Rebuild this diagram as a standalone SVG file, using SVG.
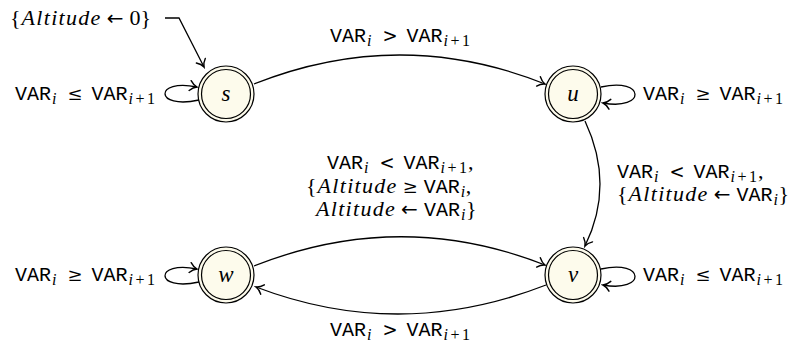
<svg xmlns="http://www.w3.org/2000/svg" width="798" height="343" viewBox="0 0 798 343">
<defs>
<marker id="arr" viewBox="-8 -6 10 12" refX="0" refY="0" markerWidth="10" markerHeight="12" markerUnits="userSpaceOnUse" orient="auto">
<path d="M -7 -5 C -4.8 -2.3 -2.2 -0.6 0 0 C -2.2 0.6 -4.8 2.3 -7 5" fill="none" stroke="#000" stroke-width="1.4" stroke-linecap="round"/>
</marker>
</defs>
<rect x="0" y="0" width="798" height="343" fill="#ffffff"/>

<g id="connectors" fill="none" stroke="#000" stroke-width="1.3" marker-end="url(#arr)">
<path id="init" d="M 165 18 L 179 18 L 204 67"/>
<path id="s-s" d="M 199 100 C 154 110 154 78 197 87"/>
<path id="s-u" d="M 254 84 Q 400 26 545 84"/>
<path id="u-u" d="M 601 87 C 646 77 646 111 603 103"/>
<path id="u-v" d="M 585 121 Q 615 185 585 246"/>
<path id="w-v" d="M 254 266 Q 400 208 545 265"/>
<path id="v-w" d="M 546 285 Q 400 342 256 287"/>
<path id="w-w" d="M 199 282 C 154 292 154 260 197 269"/>
<path id="v-v" d="M 601 269 C 646 259 646 293 603 285"/>
</g>

<g id="lab-init">
<text x="10" y="25" font-family="Liberation Serif" font-size="22" style="font-family:'Liberation Serif'">{</text>
<text x="21.6" y="25" font-family="Liberation Serif" font-size="22" font-style="italic" letter-spacing="1.3" style="font-family:'Liberation Serif'">Altitude</text>
<text x="106.7" y="25" font-family="DejaVu Sans" font-size="20" style="font-family:'DejaVu Sans'">←</text>
<text x="129.5" y="25" font-family="Liberation Serif" font-size="22" style="font-family:'Liberation Serif'">0}</text>
</g>

<g id="lab-ss">
<text x="15" y="100" font-family="Liberation Mono" font-size="20" style="font-family:'Liberation Mono'">VAR</text>
<text x="52" y="104" font-family="Liberation Serif" font-size="16" font-style="italic" style="font-family:'Liberation Serif'">i</text>
<text x="67.5" y="100" font-family="DejaVu Serif" font-size="18" style="font-family:'DejaVu Serif'">≤</text>
<text x="91.5" y="100" font-family="Liberation Mono" font-size="20" style="font-family:'Liberation Mono'">VAR</text>
<text x="128.5" y="104" font-family="Liberation Serif" font-size="16" font-style="italic" style="font-family:'Liberation Serif'">i</text>
<text x="135.5" y="104" font-family="Liberation Serif" font-size="16" letter-spacing="2.5" style="font-family:'Liberation Serif'">+1</text>
</g>

<g id="lab-su">
<text x="330" y="42" font-family="Liberation Mono" font-size="20" style="font-family:'Liberation Mono'">VAR</text>
<text x="367" y="46" font-family="Liberation Serif" font-size="16" font-style="italic" style="font-family:'Liberation Serif'">i</text>
<text x="382.5" y="42" font-family="DejaVu Serif" font-size="18" style="font-family:'DejaVu Serif'">&gt;</text>
<text x="406.5" y="42" font-family="Liberation Mono" font-size="20" style="font-family:'Liberation Mono'">VAR</text>
<text x="443.5" y="46" font-family="Liberation Serif" font-size="16" font-style="italic" style="font-family:'Liberation Serif'">i</text>
<text x="450.5" y="46" font-family="Liberation Serif" font-size="16" letter-spacing="2.5" style="font-family:'Liberation Serif'">+1</text>
</g>

<g id="lab-uu">
<text x="643" y="100" font-family="Liberation Mono" font-size="20" style="font-family:'Liberation Mono'">VAR</text>
<text x="680" y="104" font-family="Liberation Serif" font-size="16" font-style="italic" style="font-family:'Liberation Serif'">i</text>
<text x="695.5" y="100" font-family="DejaVu Serif" font-size="18" style="font-family:'DejaVu Serif'">≥</text>
<text x="719.5" y="100" font-family="Liberation Mono" font-size="20" style="font-family:'Liberation Mono'">VAR</text>
<text x="756.5" y="104" font-family="Liberation Serif" font-size="16" font-style="italic" style="font-family:'Liberation Serif'">i</text>
<text x="763.5" y="104" font-family="Liberation Serif" font-size="16" letter-spacing="2.5" style="font-family:'Liberation Serif'">+1</text>
</g>

<g id="lab-uv">
<text x="617" y="178" font-family="Liberation Mono" font-size="20" style="font-family:'Liberation Mono'">VAR</text>
<text x="654" y="182" font-family="Liberation Serif" font-size="16" font-style="italic" style="font-family:'Liberation Serif'">i</text>
<text x="669.5" y="178" font-family="DejaVu Serif" font-size="18" style="font-family:'DejaVu Serif'">&lt;</text>
<text x="693.5" y="178" font-family="Liberation Mono" font-size="20" style="font-family:'Liberation Mono'">VAR</text>
<text x="730.5" y="182" font-family="Liberation Serif" font-size="16" font-style="italic" style="font-family:'Liberation Serif'">i</text>
<text x="737.5" y="182" font-family="Liberation Serif" font-size="16" letter-spacing="2.5" style="font-family:'Liberation Serif'">+1</text>
<text x="758" y="178" font-family="Liberation Serif" font-size="22" style="font-family:'Liberation Serif'">,</text>
<text x="617" y="201" font-family="Liberation Serif" font-size="22" style="font-family:'Liberation Serif'">{</text>
<text x="628.6" y="201" font-family="Liberation Serif" font-size="22" font-style="italic" letter-spacing="1.3" style="font-family:'Liberation Serif'">Altitude</text>
<text x="713.7" y="201" font-family="DejaVu Sans" font-size="20" style="font-family:'DejaVu Sans'">←</text>
<text x="736.5" y="201" font-family="Liberation Mono" font-size="20" style="font-family:'Liberation Mono'">VAR</text>
<text x="773.5" y="205" font-family="Liberation Serif" font-size="16" font-style="italic" style="font-family:'Liberation Serif'">i</text>
<text x="778.5" y="201" font-family="Liberation Serif" font-size="22" style="font-family:'Liberation Serif'">}</text>
</g>

<g id="lab-wv">
<text x="327" y="169" font-family="Liberation Mono" font-size="20" style="font-family:'Liberation Mono'">VAR</text>
<text x="364" y="173" font-family="Liberation Serif" font-size="16" font-style="italic" style="font-family:'Liberation Serif'">i</text>
<text x="379.5" y="169" font-family="DejaVu Serif" font-size="18" style="font-family:'DejaVu Serif'">&lt;</text>
<text x="403.5" y="169" font-family="Liberation Mono" font-size="20" style="font-family:'Liberation Mono'">VAR</text>
<text x="440.5" y="173" font-family="Liberation Serif" font-size="16" font-style="italic" style="font-family:'Liberation Serif'">i</text>
<text x="447.5" y="173" font-family="Liberation Serif" font-size="16" letter-spacing="2.5" style="font-family:'Liberation Serif'">+1</text>
<text x="468" y="169" font-family="Liberation Serif" font-size="22" style="font-family:'Liberation Serif'">,</text>
<text x="306" y="193" font-family="Liberation Serif" font-size="22" style="font-family:'Liberation Serif'">{</text>
<text x="317.6" y="193" font-family="Liberation Serif" font-size="22" font-style="italic" letter-spacing="1.3" style="font-family:'Liberation Serif'">Altitude</text>
<text x="402.7" y="193" font-family="DejaVu Serif" font-size="18" style="font-family:'DejaVu Serif'">≥</text>
<text x="423.8" y="193" font-family="Liberation Mono" font-size="20" style="font-family:'Liberation Mono'">VAR</text>
<text x="460.8" y="197" font-family="Liberation Serif" font-size="16" font-style="italic" style="font-family:'Liberation Serif'">i</text>
<text x="465.8" y="193" font-family="Liberation Serif" font-size="22" style="font-family:'Liberation Serif'">,</text>
<text x="316" y="216" font-family="Liberation Serif" font-size="22" font-style="italic" letter-spacing="1.3" style="font-family:'Liberation Serif'">Altitude</text>
<text x="401.1" y="216" font-family="DejaVu Sans" font-size="20" style="font-family:'DejaVu Sans'">←</text>
<text x="423.9" y="216" font-family="Liberation Mono" font-size="20" style="font-family:'Liberation Mono'">VAR</text>
<text x="460.9" y="220" font-family="Liberation Serif" font-size="16" font-style="italic" style="font-family:'Liberation Serif'">i</text>
<text x="465.9" y="216" font-family="Liberation Serif" font-size="22" style="font-family:'Liberation Serif'">}</text>
</g>

<g id="lab-vw">
<text x="330" y="336" font-family="Liberation Mono" font-size="20" style="font-family:'Liberation Mono'">VAR</text>
<text x="367" y="340" font-family="Liberation Serif" font-size="16" font-style="italic" style="font-family:'Liberation Serif'">i</text>
<text x="382.5" y="336" font-family="DejaVu Serif" font-size="18" style="font-family:'DejaVu Serif'">&gt;</text>
<text x="406.5" y="336" font-family="Liberation Mono" font-size="20" style="font-family:'Liberation Mono'">VAR</text>
<text x="443.5" y="340" font-family="Liberation Serif" font-size="16" font-style="italic" style="font-family:'Liberation Serif'">i</text>
<text x="450.5" y="340" font-family="Liberation Serif" font-size="16" letter-spacing="2.5" style="font-family:'Liberation Serif'">+1</text>
</g>

<g id="lab-ww">
<text x="15" y="281" font-family="Liberation Mono" font-size="20" style="font-family:'Liberation Mono'">VAR</text>
<text x="52" y="285" font-family="Liberation Serif" font-size="16" font-style="italic" style="font-family:'Liberation Serif'">i</text>
<text x="67.5" y="281" font-family="DejaVu Serif" font-size="18" style="font-family:'DejaVu Serif'">≥</text>
<text x="91.5" y="281" font-family="Liberation Mono" font-size="20" style="font-family:'Liberation Mono'">VAR</text>
<text x="128.5" y="285" font-family="Liberation Serif" font-size="16" font-style="italic" style="font-family:'Liberation Serif'">i</text>
<text x="135.5" y="285" font-family="Liberation Serif" font-size="16" letter-spacing="2.5" style="font-family:'Liberation Serif'">+1</text>
</g>

<g id="lab-vv">
<text x="643" y="281" font-family="Liberation Mono" font-size="20" style="font-family:'Liberation Mono'">VAR</text>
<text x="680" y="285" font-family="Liberation Serif" font-size="16" font-style="italic" style="font-family:'Liberation Serif'">i</text>
<text x="695.5" y="281" font-family="DejaVu Serif" font-size="18" style="font-family:'DejaVu Serif'">≤</text>
<text x="719.5" y="281" font-family="Liberation Mono" font-size="20" style="font-family:'Liberation Mono'">VAR</text>
<text x="756.5" y="285" font-family="Liberation Serif" font-size="16" font-style="italic" style="font-family:'Liberation Serif'">i</text>
<text x="763.5" y="285" font-family="Liberation Serif" font-size="16" letter-spacing="2.5" style="font-family:'Liberation Serif'">+1</text>
</g>

<g id="node-s"><circle cx="226" cy="94" r="28" fill="#fdfbec" stroke="#000" stroke-width="1.2"/><circle cx="226" cy="94" r="24.5" fill="#fdfbec" stroke="#000" stroke-width="1.2"/><text x="226" y="101" font-family="Liberation Serif" font-style="italic" font-size="23" text-anchor="middle" style="font-family:'Liberation Serif'">s</text></g>
<g id="node-u"><circle cx="573" cy="94" r="28" fill="#fdfbec" stroke="#000" stroke-width="1.2"/><circle cx="573" cy="94" r="24.5" fill="#fdfbec" stroke="#000" stroke-width="1.2"/><text x="573" y="101" font-family="Liberation Serif" font-style="italic" font-size="23" text-anchor="middle" style="font-family:'Liberation Serif'">u</text></g>
<g id="node-w"><circle cx="226" cy="275" r="28" fill="#fdfbec" stroke="#000" stroke-width="1.2"/><circle cx="226" cy="275" r="24.5" fill="#fdfbec" stroke="#000" stroke-width="1.2"/><text x="226" y="282" font-family="Liberation Serif" font-style="italic" font-size="23" text-anchor="middle" style="font-family:'Liberation Serif'">w</text></g>
<g id="node-v"><circle cx="573" cy="275" r="28" fill="#fdfbec" stroke="#000" stroke-width="1.2"/><circle cx="573" cy="275" r="24.5" fill="#fdfbec" stroke="#000" stroke-width="1.2"/><text x="573" y="282" font-family="Liberation Serif" font-style="italic" font-size="23" text-anchor="middle" style="font-family:'Liberation Serif'">v</text></g>
</svg>
